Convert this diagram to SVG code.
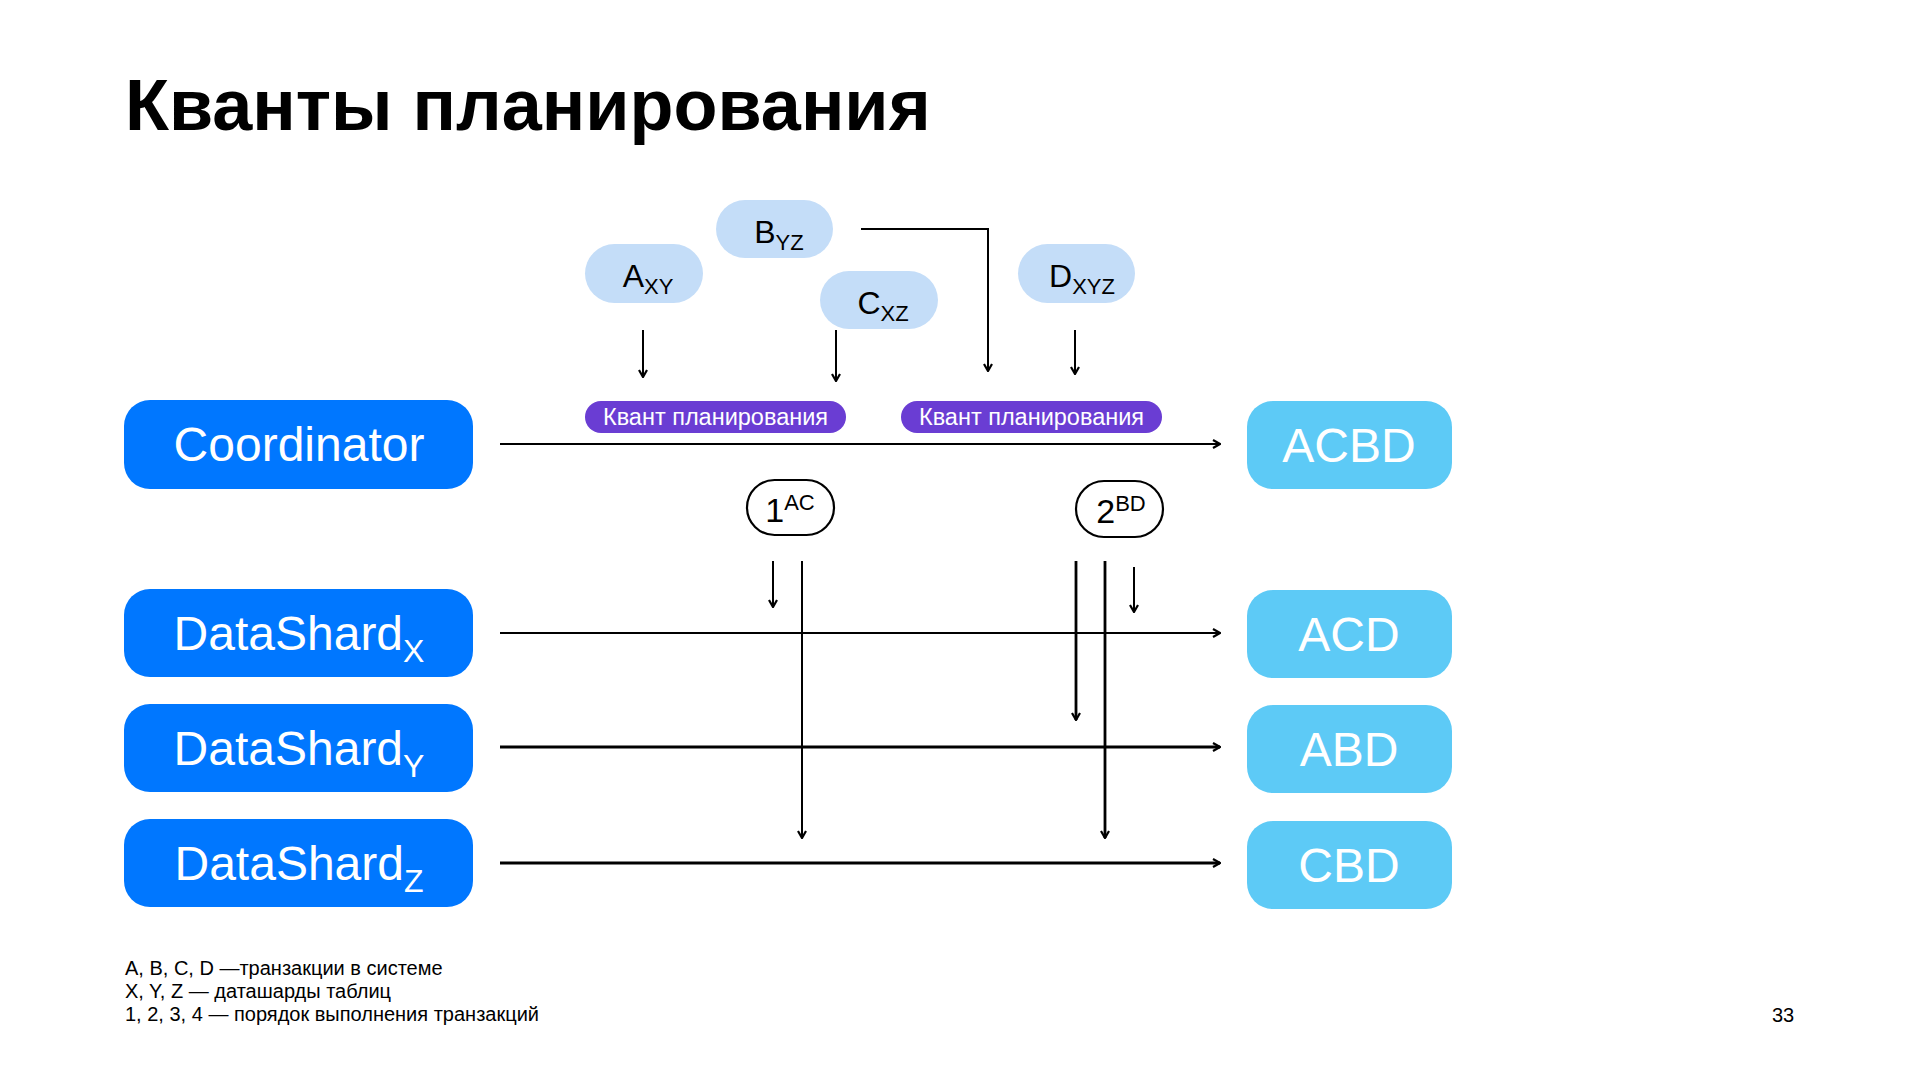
<svg xmlns="http://www.w3.org/2000/svg" width="1920" height="1080" viewBox="0 0 1920 1080">
<defs>
<style>
text{font-family:"Liberation Sans",Arial,sans-serif}
.title{font-size:72px;font-weight:bold;fill:#000}
.main{fill:#0077FF}
.res{fill:#5DCAF6}
.tx{fill:#C4DDF8}
.q{fill:#6A3DD3}
.wt{fill:#fff;font-size:48px;text-anchor:middle}
.tt{fill:#000;font-size:32px;text-anchor:middle}
.qt{fill:#fff;font-size:23.5px;text-anchor:middle}
.ct{fill:#000;font-size:34px;text-anchor:middle}
.step{fill:#fff;stroke:#000;stroke-width:2.2}
.ln{fill:none;stroke:#000;stroke-width:2}
.lnb{fill:none;stroke:#000;stroke-width:2.8}
.note{font-size:20px;fill:#000}
</style>
<marker id="ah" viewBox="0 0 10 10" refX="9" refY="5" markerWidth="10" markerHeight="10" markerUnits="userSpaceOnUse" orient="auto">
<path d="M2,1 L9,5 L2,9" fill="none" stroke="#000" stroke-width="2.2"/>
</marker>
</defs>
<rect width="1920" height="1080" fill="#fff"/>
<text class="title" x="125" y="130">Кванты планирования</text>

<g id="connectors">
<line class="ln" x1="500" y1="444" x2="1220" y2="444" marker-end="url(#ah)"/>
<line class="ln" x1="500" y1="633" x2="1220" y2="633" marker-end="url(#ah)"/>
<line class="lnb" x1="500" y1="747" x2="1220" y2="747" marker-end="url(#ah)"/>
<line class="lnb" x1="500" y1="863" x2="1220" y2="863" marker-end="url(#ah)"/>
<line class="ln" x1="643" y1="330" x2="643" y2="377" marker-end="url(#ah)"/>
<line class="ln" x1="836" y1="330" x2="836" y2="381" marker-end="url(#ah)"/>
<polyline class="ln" points="861,229 988,229 988,371" marker-end="url(#ah)"/>
<line class="ln" x1="1075" y1="330" x2="1075" y2="374" marker-end="url(#ah)"/>
<line class="ln" x1="773" y1="561" x2="773" y2="607" marker-end="url(#ah)"/>
<line class="ln" x1="802" y1="561" x2="802" y2="838" marker-end="url(#ah)"/>
<line class="lnb" x1="1076" y1="561" x2="1076" y2="720" marker-end="url(#ah)"/>
<line class="lnb" x1="1105" y1="561" x2="1105" y2="838" marker-end="url(#ah)"/>
<line class="ln" x1="1134" y1="567" x2="1134" y2="612" marker-end="url(#ah)"/>
</g>

<g id="coordinator"><rect class="main" x="124" y="400" width="349" height="89" rx="26"/><text class="wt" x="299" y="461">Coordinator</text></g>
<g id="datashard-x"><rect class="main" x="124" y="589" width="349" height="88" rx="26"/><text class="wt" x="299" y="650">DataShard<tspan font-size="32" dy="12">X</tspan></text></g>
<g id="datashard-y"><rect class="main" x="124" y="704" width="349" height="88" rx="26"/><text class="wt" x="299" y="765">DataShard<tspan font-size="32" dy="12">Y</tspan></text></g>
<g id="datashard-z"><rect class="main" x="124" y="819" width="349" height="88" rx="26"/><text class="wt" x="299" y="880">DataShard<tspan font-size="32" dy="12">Z</tspan></text></g>

<g id="res-acbd"><rect class="res" x="1247" y="401" width="205" height="88" rx="26"/><text class="wt" x="1349" y="462">ACBD</text></g>
<g id="res-acd"><rect class="res" x="1247" y="590" width="205" height="88" rx="26"/><text class="wt" x="1349" y="651">ACD</text></g>
<g id="res-abd"><rect class="res" x="1247" y="705" width="205" height="88" rx="26"/><text class="wt" x="1349" y="766">ABD</text></g>
<g id="res-cbd"><rect class="res" x="1247" y="821" width="205" height="88" rx="26"/><text class="wt" x="1349" y="882">CBD</text></g>

<g id="tx-a"><rect class="tx" x="585" y="244" width="118" height="59" rx="29.5"/><text class="tt" x="648" y="287">A<tspan font-size="22" dy="7">XY</tspan></text></g>
<g id="tx-b"><rect class="tx" x="716" y="200" width="117" height="58" rx="29"/><text class="tt" x="779" y="243">B<tspan font-size="22" dy="7">YZ</tspan></text></g>
<g id="tx-c"><rect class="tx" x="820" y="271" width="118" height="58" rx="29"/><text class="tt" x="883" y="314">C<tspan font-size="22" dy="7">XZ</tspan></text></g>
<g id="tx-d"><rect class="tx" x="1018" y="244" width="117" height="59" rx="29.5"/><text class="tt" x="1082" y="287">D<tspan font-size="22" dy="7">XYZ</tspan></text></g>

<g id="quant-1"><rect class="q" x="585" y="401" width="261" height="32" rx="16"/><text class="qt" x="715.5" y="425">Квант планирования</text></g>
<g id="quant-2"><rect class="q" x="901" y="401" width="261" height="32" rx="16"/><text class="qt" x="1031.5" y="425">Квант планирования</text></g>

<g id="step-1"><rect class="step" x="747" y="480" width="87" height="55" rx="27.5"/><text class="ct" x="790" y="522">1<tspan font-size="22" dy="-12">AC</tspan></text></g>
<g id="step-2"><rect class="step" x="1076" y="481" width="87" height="56" rx="28"/><text class="ct" x="1121" y="523">2<tspan font-size="22" dy="-12">BD</tspan></text></g>

<g id="notes">
<text class="note" x="125" y="975">A, B, C, D —транзакции в системе</text>
<text class="note" x="125" y="998">X, Y, Z — даташарды таблиц</text>
<text class="note" x="125" y="1021">1, 2, 3, 4 — порядок выполнения транзакций</text>
</g>
<text class="note" x="1783" y="1022" text-anchor="middle" font-size="21">33</text>
</svg>
